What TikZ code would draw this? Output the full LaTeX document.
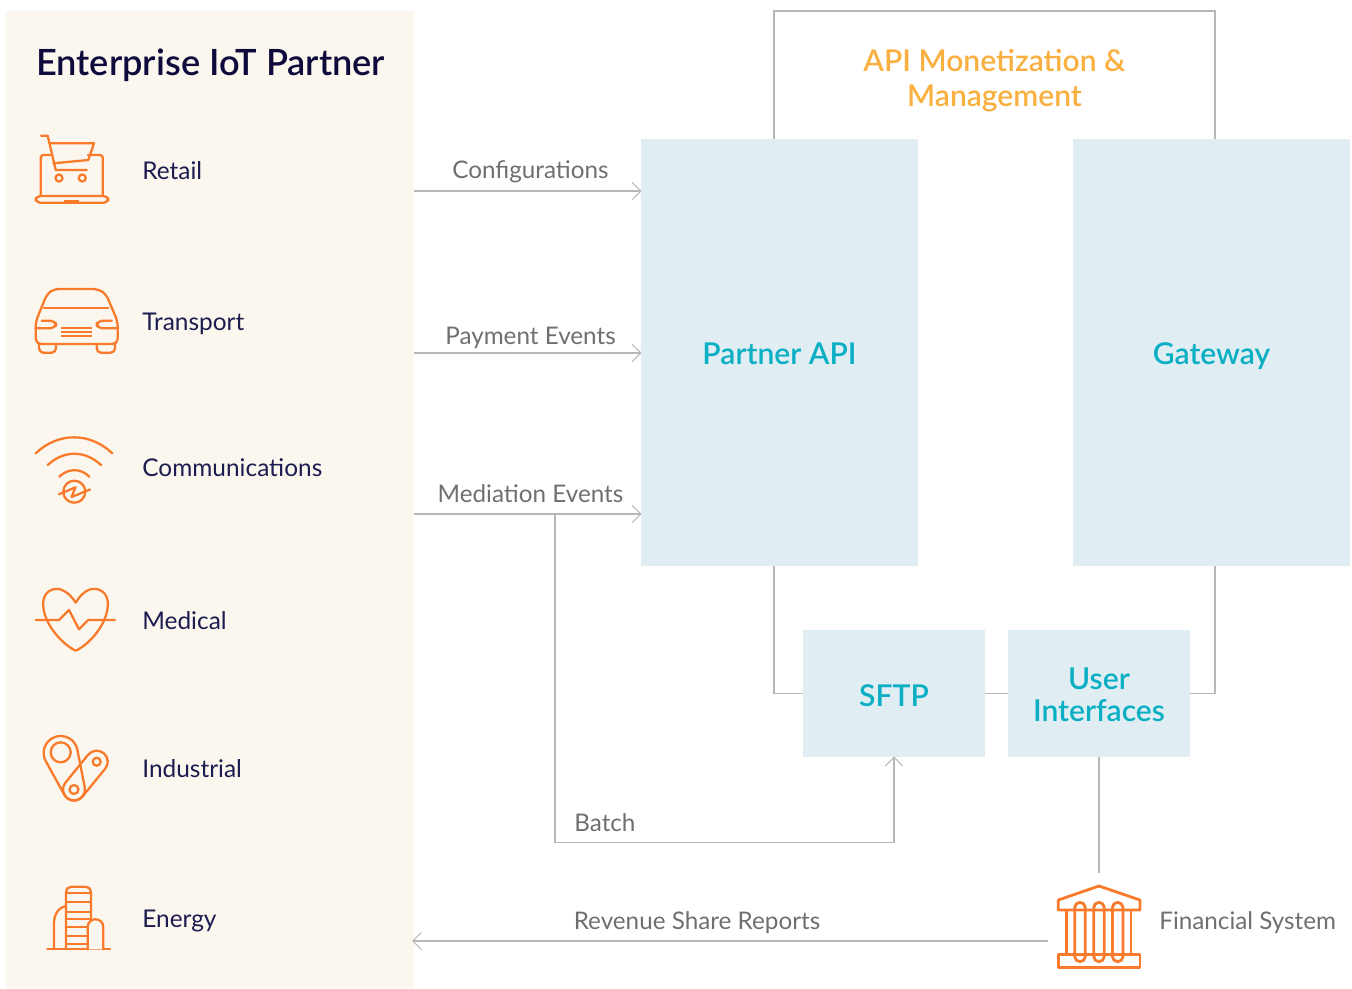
\documentclass[tikz,border=0pt]{standalone}
\usepackage{fontspec}
\setmainfont{Lato}
\newfontfamily\semifont{Lato Semibold}
\usetikzlibrary{arrows.meta}
\definecolor{panelbg}{HTML}{FBF7EF}
\definecolor{blockbg}{HTML}{E0EEF3}
\definecolor{blocktext}{HTML}{0BAFC4}
\definecolor{iconcol}{HTML}{F97A2B}
\definecolor{apicol}{HTML}{F9B040}
\definecolor{linecol}{HTML}{B8B8B8}
\definecolor{greytext}{HTML}{6F6F6F}
\definecolor{titlecol}{HTML}{0E0B3C}
\definecolor{sectortext}{HTML}{1C1C50}
\tikzset{
  block/.style={fill=blockbg,text=blocktext,font=\fontsize{17.1}{18.2}\semifont,align=center,inner sep=0pt},
  conn/.style={draw=linecol,line width=0.6pt},
  arrowed/.style={conn,-{Straight Barb[length=4.9pt,width=9.7pt]},shorten >=-0.5pt},
  sector/.style={anchor=base west,inner sep=0pt,text=sectortext,font=\fontsize{13.9}{16}\selectfont},
  flowlabel/.style={anchor=base,inner sep=0pt,text=greytext,font=\fontsize{13.8}{16}\selectfont},
  icon/.style={draw=iconcol,line width=1.3pt,line join=round,line cap=round},
}
\begin{document}
\begin{tikzpicture}[x=0.02cm,y=-0.02cm]
  \useasboundingbox (0,0) rectangle (1352,988);

  \node[fill=panelbg,minimum width=8.16cm,minimum height=19.54cm,inner sep=0pt] (panel) at (210,499.5) {};
  \node[anchor=base west,inner sep=0pt,text=titlecol,font=\fontsize{20.6}{24}\semifont] (title) at (36,75) {Enterprise IoT Partner};

  \foreach \lab/\yy in {Retail/179,Transport/330.5,Communications/476,Medical/629.5,Industrial/777,Energy/927.5} {
    \node[sector] (\lab) at (142,\yy) {\lab};
  }

  % blocks
  \node[block,text height=14.2pt,text depth=0pt,minimum width=5.54cm,minimum height=8.54cm] (partnerapi) at (779.5,352.5) {Partner API};
  \node[block,text height=14.2pt,text depth=0pt,minimum width=5.54cm,minimum height=8.54cm] (gateway) at (1211.5,352.5) {Gateway};
  \node[block,text height=15.2pt,text depth=0pt,minimum width=3.64cm,minimum height=2.54cm] (sftp) at (894,693.5) {SFTP};
  \node[block,text height=31.5pt,text depth=0pt,minimum width=3.64cm,minimum height=2.54cm] (userif) at (1099,693.5) {User\\Interfaces};
  \node[inner sep=0pt,align=center,text=apicol,font=\fontsize{17.1}{20}\semifont] (apimon) at (994.5,81) {API Monetization \&\\Management};

  % connectors
  \coordinate (apileft) at (774,11);
  \coordinate (apiright) at (1215,11);
  \coordinate (cfgfrom) at (414,191);
  \coordinate (payfrom) at (414,353);
  \coordinate (medfrom) at (414,514);
  \coordinate (batchfrom) at (555,514);
  \coordinate (batchcorner) at (555,842.5);
  \coordinate (bankin) at (1099,873);
  \coordinate (bankout) at (1048,941);
  \coordinate (panelin) at (413,941);

  \draw[conn] (partnerapi.north -| apileft) -- (apileft) -- (apiright) -- (gateway.north -| apiright);
  \draw[conn] (partnerapi.south -| apileft) |- (sftp.west);
  \draw[conn] (gateway.south -| apiright) |- (userif.east);
  \draw[conn] (sftp.east) -- (userif.west);
  \draw[conn] (userif.south) -- (bankin);
  \draw[arrowed] (cfgfrom) -- (cfgfrom -| partnerapi.west);
  \draw[arrowed] (payfrom) -- (payfrom -| partnerapi.west);
  \draw[arrowed] (medfrom) -- (medfrom -| partnerapi.west);
  \draw[conn] (batchfrom) -- (batchcorner);
  \draw[arrowed] (batchcorner) -| (sftp.south);
  \draw[arrowed] (bankout) -- (panelin);

  \node[flowlabel] (cfglabel) at (530.5,178) {Configurations};
  \node[flowlabel] (paylabel) at (530.5,344) {Payment Events};
  \node[flowlabel] (medlabel) at (530.5,502) {Mediation Events};
  \node[flowlabel,anchor=base west] (batchlabel) at (574,831.5) {Batch};
  \node[flowlabel] (revlabel) at (697,929.5) {Revenue Share Reports};
  \node[flowlabel,anchor=base west] (finlabel) at (1159,929.5) {Financial System};

  % cart on laptop
  \draw[icon] (41,135.7) -- (47.7,135.7) -- (55.7,170) -- (86.7,170);
  \draw[icon] (50,143.3) -- (94,143.3) -- (88.3,160) -- (53.3,163.3);
  \draw[icon] (59,178) circle (3.5) (82.3,178) circle (3.5);
  \draw[icon] (40.7,196) -- (40.7,157) -- (42.7,155) -- (51,155) (88,155) -- (100.7,155) -- (102.7,157) -- (102.7,196);
  \draw[icon,rounded corners=2.5pt] (35.7,196) -- (108.3,196) -- (108.3,202.7) -- (35.7,202.7) -- cycle;
  \fill[iconcol] (64.3,199.5) rectangle (79,202.7);

  % car
  \draw[icon,rounded corners=3pt] (35.7,330) -- (35.7,321.7) -- (47,294) -- (54,289) -- (98,289) -- (106,294) -- (117.7,321.7) -- (117.7,344) -- (35.7,344) -- cycle;
  \draw[icon] (44,308.3) -- (108.3,308.3);
  \draw[icon,rounded corners=3pt] (41.7,320.7) -- (56,320.7) -- (56,328.3) -- (35.7,328.3);
  \draw[icon,rounded corners=3pt] (111.7,320.7) -- (96.7,320.7) -- (96.7,328.3) -- (117.7,328.3);
  \foreach \yy in {328.3,332.3,336.3} {
    \draw[icon,line cap=butt] (61.3,\yy) -- (92,\yy);
  }
  \draw[icon,rounded corners=2.5pt] (39,344) -- (39,352.7) -- (56,352.7) -- (56,344);
  \draw[icon,rounded corners=2.5pt] (96.7,344) -- (96.7,352.7) -- (115,352.7) -- (115,344);

  % signal
  \draw[icon] (35.7,453.3) .. controls (58,432) and (90,432) .. (112.3,453.3);
  \draw[icon] (47.7,465) .. controls (64,450) and (85,450) .. (101,465);
  \draw[icon] (59.3,476.7) .. controls (68,468) and (81,468) .. (89.3,476.7);
  \draw[icon] (74.3,491.7) circle (11);
  \draw[icon] (59,494.3) -- (75.5,487.3) -- (71.5,497) -- (90,489.5);

  % heart
  \draw[icon] (75.7,602.7) .. controls (68,590) and (58,588) .. (55,589) .. controls (47,590) and (42,597) .. (43.3,607) .. controls (45,625) and (62,644) .. (75.7,650.7) .. controls (90,644) and (106,625) .. (107.7,607) .. controls (109,597) and (104,590) .. (96,589) .. controls (92,588) and (83,590) .. (75.7,602.7);
  \draw[icon] (35.7,620) -- (59,620) -- (69,610) -- (79,629.3) -- (88.3,620) -- (115,620);

  % belt
  \draw[icon] (60.7,752.3) circle (10) (74,789.5) circle (4.5) (96.7,761.7) circle (4);
  \draw[icon] (45.8,761.2) arc [start angle=151, end angle=349, radius=17] -- (84.8,787.4) arc [start angle=-11, end angle=151, radius=11] -- cycle;
  \draw[icon] (65.5,782.5) -- (88.2,754.7) arc [start angle=219.2, end angle=399.2, radius=11] -- (82.5,796.5) arc [start angle=39.2, end angle=219.2, radius=11] -- cycle;

  % buildings
  \draw[icon] (47.3,949.3) -- (110,949.3);
  \draw[icon,rounded corners=3pt] (66,949.3) -- (66,886.7) -- (91,886.7) -- (91,930);
  \foreach \yy in {893.3,901.7,911.7,919.3,927.3,936,944} {
    \draw[icon] (66,\yy) -- (90,\yy);
  }
  \draw[icon] (54,949.3) -- (54,923) .. controls (54,913) and (60,907) .. (66,906);
  \draw[icon,fill=panelbg] (87.7,949.3) -- (87.7,927) arc [start angle=180, end angle=360, radius=7.8] -- (103.3,949.3);

  % bank
  \begin{scope}[icon/.append style={line width=1.6pt}]
  \draw[icon] (1058.3,910) -- (1058.3,900) -- (1099,886) -- (1140,900) -- (1140,910) -- cycle;
  \draw[icon] (1058.3,954.3) rectangle (1140,967.3);
  \draw[icon] (1066.7,910) -- (1066.7,954.3) (1131,910) -- (1131,954.3);
  \foreach \xx in {1080,1099,1117.7} {
    \draw[icon] (\xx-5.3,907.6) arc [start angle=180, end angle=360, radius=5.3] -- (\xx+5.3,956.4) arc [start angle=0, end angle=180, radius=5.3] -- cycle;
  }
  \end{scope}
\end{tikzpicture}
\end{document}
